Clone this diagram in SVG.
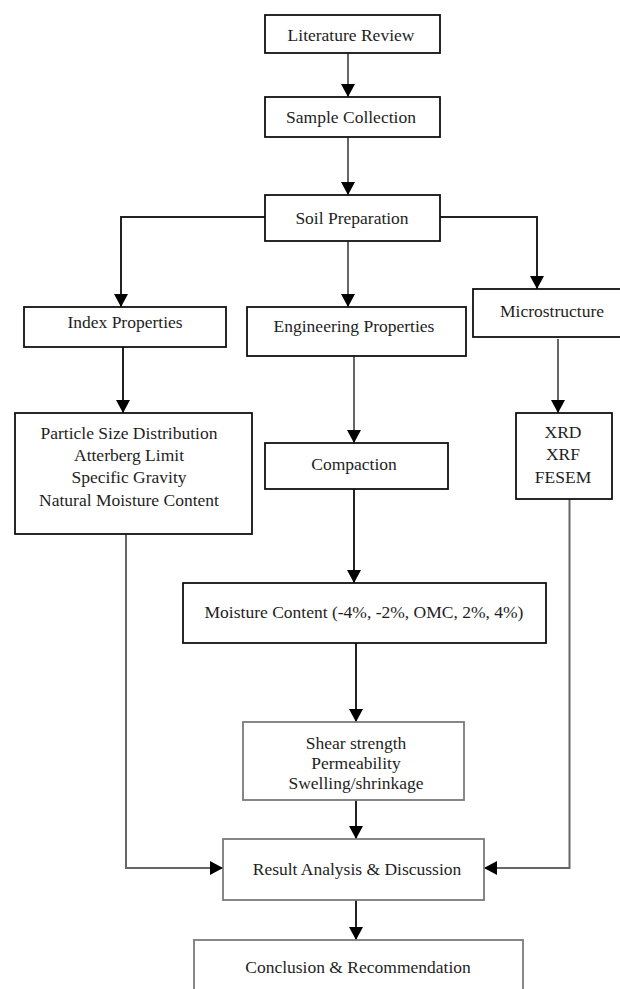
<svg xmlns="http://www.w3.org/2000/svg" width="620" height="989" viewBox="0 0 620 989">
<style>
  .box { fill: #ffffff; stroke: #111111; stroke-width: 1.8; }
  .gbox { fill: #ffffff; stroke: #7a7a7a; stroke-width: 1.8; }
  .lbl { font-family: "Liberation Serif", "Times New Roman", serif; font-size: 17.5px; fill: #1e1e1e; text-anchor: middle; }
  .con { fill: none; stroke: #222222; stroke-width: 2; }
  .gcon { fill: none; stroke: #666666; stroke-width: 2; }
</style>
<defs>
  <marker id="arr" markerUnits="userSpaceOnUse" markerWidth="14" markerHeight="14" refX="13" refY="7" orient="auto">
    <path d="M0,0 L13,7 L0,14 z" fill="#000000"/>
  </marker>
</defs>
<rect width="620" height="989" fill="#ffffff"/>

<g id="connectors">
  <path class="gcon" d="M348,53 V97" marker-end="url(#arr)"/>
  <path class="gcon" d="M348,137 V195" marker-end="url(#arr)"/>
  <path class="con" d="M265,217 H121 V307" marker-end="url(#arr)"/>
  <path class="gcon" d="M348,241 V307" marker-end="url(#arr)"/>
  <path class="con" d="M440,217 H537 V289" marker-end="url(#arr)"/>
  <path class="con" d="M123,347 V413" marker-end="url(#arr)"/>
  <path class="gcon" d="M354,356 V443" marker-end="url(#arr)"/>
  <path class="gcon" d="M558,339 V413" marker-end="url(#arr)"/>
  <path class="con" d="M354,489 V583" marker-end="url(#arr)"/>
  <path class="con" d="M356,643 V722" marker-end="url(#arr)"/>
  <path class="con" d="M356,800 V839" marker-end="url(#arr)"/>
  <path class="gcon" d="M126,534 V868 H223" marker-end="url(#arr)"/>
  <path class="gcon" d="M569.5,499 V868 H484" marker-end="url(#arr)"/>
  <path class="con" d="M356,900 V940" marker-end="url(#arr)"/>
</g>

<g id="literature-review">
  <rect class="box" x="265" y="15" width="175" height="38"/>
  <text class="lbl" x="351" y="41">Literature Review</text>
</g>
<g id="sample-collection">
  <rect class="box" x="265" y="97" width="175" height="40"/>
  <text class="lbl" x="351" y="123">Sample Collection</text>
</g>
<g id="soil-preparation">
  <rect class="box" x="265" y="195" width="175" height="46"/>
  <text class="lbl" x="352" y="224">Soil Preparation</text>
</g>
<g id="index-properties">
  <rect class="box" x="24" y="307" width="202" height="40"/>
  <text class="lbl" x="125" y="328">Index Properties</text>
</g>
<g id="engineering-properties">
  <rect class="box" x="247" y="307" width="219" height="49"/>
  <text class="lbl" x="354" y="332">Engineering Properties</text>
</g>
<g id="microstructure">
  <rect class="box" x="473" y="289" width="160" height="48"/>
  <text class="lbl" x="552" y="317">Microstructure</text>
</g>
<g id="index-tests">
  <rect class="box" x="15" y="413" width="237" height="121"/>
  <text class="lbl" x="129" y="439">Particle Size Distribution</text>
  <text class="lbl" x="129" y="461">Atterberg Limit</text>
  <text class="lbl" x="129" y="483">Specific Gravity</text>
  <text class="lbl" x="129" y="506">Natural Moisture Content</text>
</g>
<g id="compaction">
  <rect class="box" x="265" y="443" width="183" height="46"/>
  <text class="lbl" x="354" y="470">Compaction</text>
</g>
<g id="microstructure-tests">
  <rect class="box" x="516" y="413" width="96" height="86"/>
  <text class="lbl" x="563" y="438">XRD</text>
  <text class="lbl" x="563" y="460">XRF</text>
  <text class="lbl" x="563" y="483">FESEM</text>
</g>
<g id="moisture-content">
  <rect class="box" x="183" y="583" width="363" height="60"/>
  <text class="lbl" x="364" y="618">Moisture Content (-4%, -2%, OMC, 2%, 4%)</text>
</g>
<g id="engineering-tests">
  <rect class="gbox" x="243" y="722" width="221" height="78"/>
  <text class="lbl" x="356" y="749">Shear strength</text>
  <text class="lbl" x="356" y="769">Permeability</text>
  <text class="lbl" x="356" y="789">Swelling/shrinkage</text>
</g>
<g id="result-analysis">
  <rect class="gbox" x="223" y="839" width="261" height="61"/>
  <text class="lbl" x="357" y="875">Result Analysis &amp; Discussion</text>
</g>
<g id="conclusion">
  <rect class="gbox" x="194" y="940" width="329" height="70"/>
  <text class="lbl" x="358" y="973">Conclusion &amp; Recommendation</text>
</g>
</svg>
